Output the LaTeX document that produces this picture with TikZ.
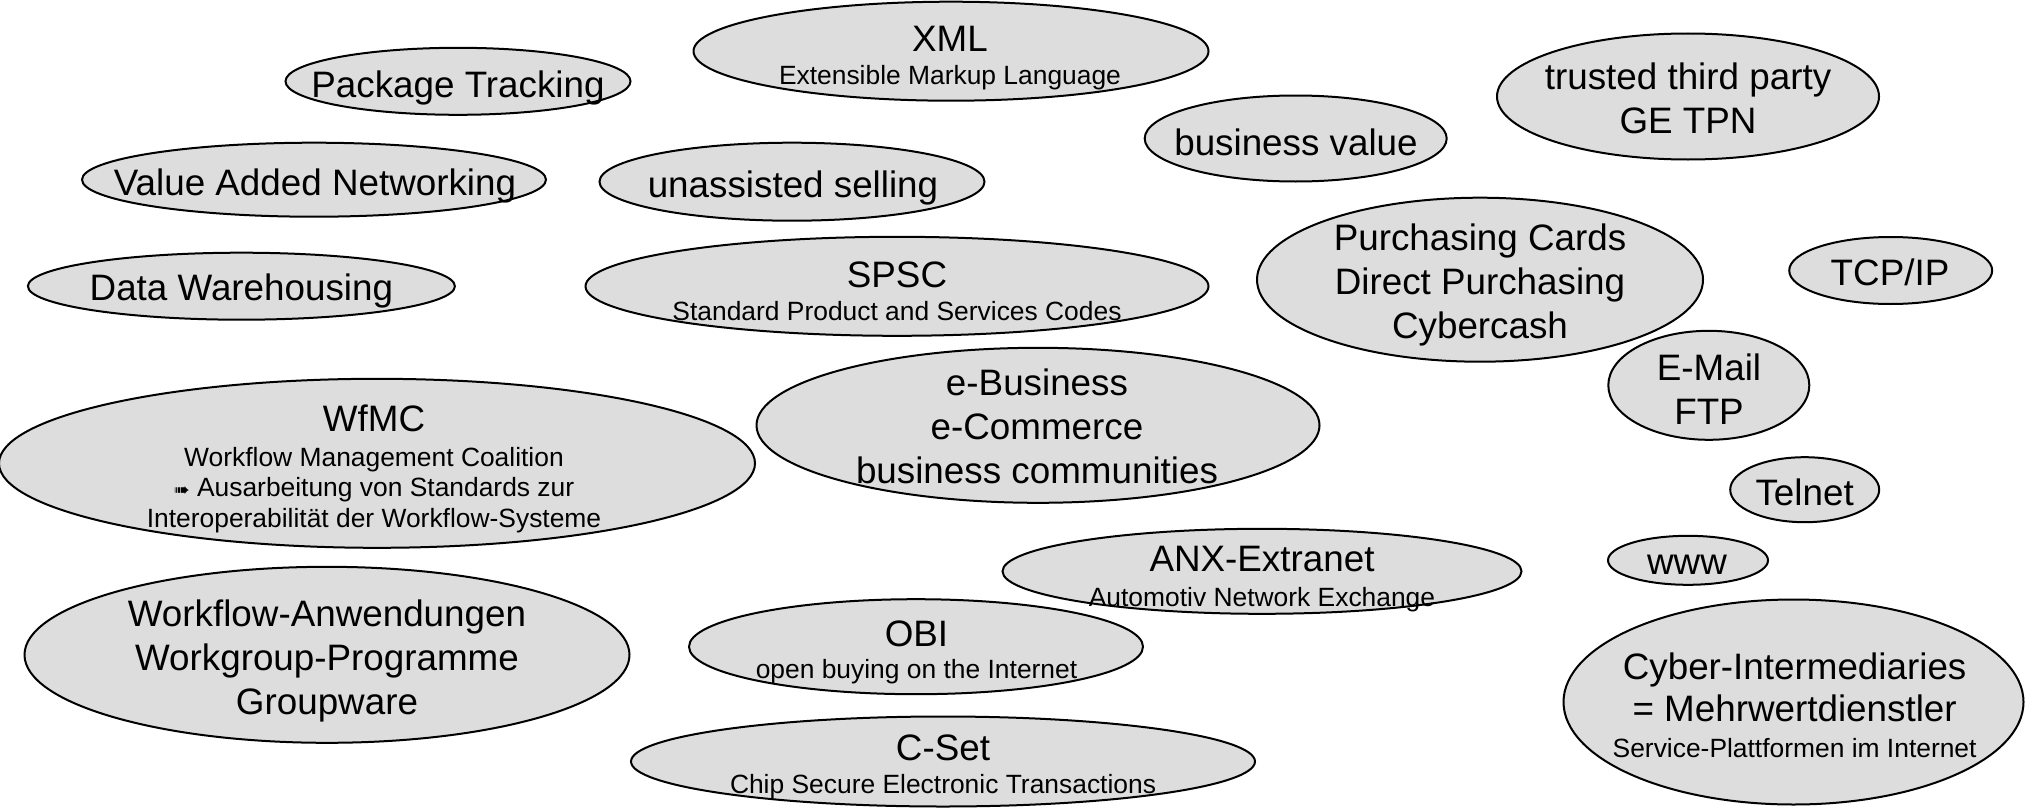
\documentclass[tikz,border=0pt]{standalone}
\usepackage{fontspec}
\setmainfont{Liberation Sans}
\newfontfamily\arrowfont{DejaVu Sans}
\usepackage{tikz}
\usetikzlibrary{shapes.geometric}
\definecolor{blobgray}{RGB}{221,221,221}
\newcommand{\sub}[1]{{\fontsize{26.4pt}{30pt}\selectfont #1}}
\newcommand{\pointer}{{\arrowfont\fontsize{19pt}{24pt}\selectfont ➠}}
\tikzset{
  blob/.style 2 args={ellipse, draw, line width=2pt, fill=blobgray, inner sep=0pt,
    minimum width=#1, minimum height=#2},
  txt/.style={align=center, inner sep=0pt, yshift=-2.5pt, font=\fontsize{36.8pt}{44pt}\selectfont},
}
\begin{document}
\begin{tikzpicture}[x=1pt, y=-1pt]
  \useasboundingbox (0, 0) rectangle (2028, 808);
  % ellipses
  \node[blob={345pt}{67pt}] (pt) at (458, 81.3) {};
  \node[blob={464pt}{74pt}] (van) at (314, 179.7) {};
  \node[blob={427pt}{67pt}] (dw) at (241.4, 286.2) {};
  \node[blob={756pt}{169pt}] (wfmc) at (377, 463.3) {};
  \node[blob={605pt}{176pt}] (wfa) at (327, 654.8) {};
  \node[blob={515pt}{99pt}] (xml) at (951, 51.2) {};
  \node[blob={385pt}{78pt}] (us) at (792, 181.7) {};
  \node[blob={623pt}{99pt}] (spsc) at (897, 286.3) {};
  \node[blob={563pt}{155pt}] (eb) at (1038, 425.3) {};
  \node[blob={519pt}{85pt}] (anx) at (1262, 571.3) {};
  \node[blob={454pt}{95pt}] (obi) at (916, 646.7) {};
  \node[blob={624pt}{90pt}] (cset) at (943, 761.5) {};
  \node[blob={302pt}{86pt}] (bv) at (1295.7, 138.5) {};
  \node[blob={382pt}{126pt}] (ttp) at (1688, 96.5) {};
  \node[blob={446pt}{164pt}] (pc) at (1480, 279.7) {};
  \node[blob={203pt}{67pt}] (tcp) at (1890.7, 270.5) {};
  \node[blob={201pt}{109pt}] (mail) at (1708.8, 385.3) {};
  \node[blob={149pt}{65pt}] (tel) at (1804.7, 489.7) {};
  \node[blob={160pt}{49pt}] (www) at (1688, 560.3) {};
  \node[blob={460pt}{205pt}] (cyb) at (1793.5, 702) {};
  % texts
  \node[txt] (ptt) at (458, 85.4) {Package Tracking};
  \node[txt] (vant) at (315, 183.1) {Value Added Networking};
  \node[txt] (dwt) at (241.4, 288.7) {Data Warehousing};
  \node[txt] (wfmct) at (374, 466.3) {WfMC\\[-9pt]\sub{Workflow Management Coalition}\\[-13.5pt]\sub{\pointer{} Ausarbeitung von Standards zur}\\[-13.5pt]\sub{Interoperabilität der Workflow-Systeme}};
  \node[txt] (wfat) at (327, 658.4) {Workflow-Anwendungen\\Workgroup-Programme\\Groupware};
  \node[txt] (xmlt) at (950, 55.3) {XML\\[-11pt]\sub{Extensible Markup Language}};
  \node[txt] (ust) at (793, 185.4) {unassisted selling};
  \node[txt] (spsct) at (897, 288.5) {SPSC\\[-11pt]\sub{Standard Product and Services Codes}};
  \node[txt] (ebt) at (1037, 423.9) {e-Business\\e-Commerce\\business communities};
  \node[txt] (anxt) at (1262, 576.1) {ANX-Extranet\\[-9pt]\sub{Automotiv Network Exchange}};
  \node[txt] (obit) at (916.5, 649.6) {OBI\\[-12pt]\sub{open buying on the Internet}};
  \node[txt] (csett) at (943, 764.8) {C-Set\\[-11pt]\sub{Chip Secure Electronic Transactions}};
  \node[txt] (bvt) at (1296, 139.9) {business value};
  \node[txt] (ttpt) at (1688, 95.9) {trusted third party\\GE TPN};
  \node[txt] (pct) at (1480, 282.7) {Purchasing Cards\\Direct Purchasing\\Cybercash};
  \node[txt] (tcpt) at (1890, 269.9) {TCP/IP};
  \node[txt] (mailt) at (1709, 386.2) {E-Mail\\FTP};
  \node[txt] (telt) at (1804.6, 489.5) {Telnet};
  \node[txt] (wwwt) at (1687, 562.7) {www};
  \node[txt] (cybt) at (1794.6, 702.3) {Cyber-Intermediaries\\[-2pt]= Mehrwertdienstler\\[-8pt]\sub{Service-Plattformen im Internet}};
\end{tikzpicture}
\end{document}
